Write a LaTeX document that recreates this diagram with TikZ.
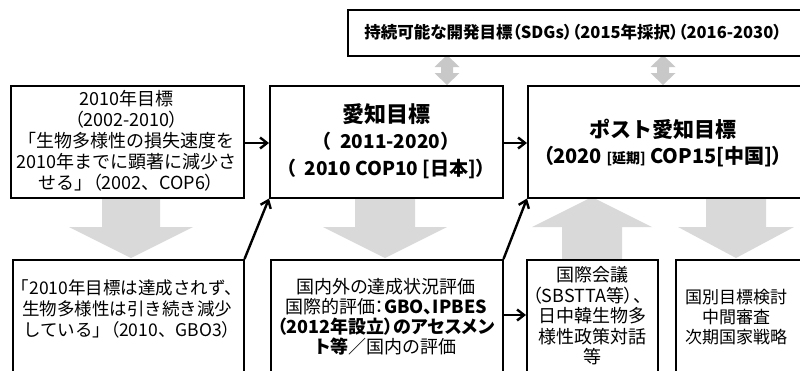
\documentclass[tikz,border=0pt]{standalone}
\usepackage{fontspec}
\setmainfont{Noto Sans CJK JP}
\newfontfamily\paltfont{Noto Sans CJK JP}[RawFeature=+palt]
\usetikzlibrary{arrows.meta,calc}
\definecolor{arrgray}{RGB}{217,217,217}
\definecolor{dblgray}{RGB}{200,200,200}
\newcommand\LP{{\paltfont（}}
\newcommand\RP{{\paltfont）}}
\newcommand\grayArrow[6]{% cx, y0 (shaft start), y1 (head base), y2 (tip), shaft half, head half
  \fill[arrgray] ({#1-#5},#2) -- ({#1+#5},#2) -- ({#1+#5},#3) -- ({#1+#6},#3) -- (#1,#4)
    -- ({#1-#6},#3) -- ({#1-#5},#3) -- cycle;}
\newcommand\dblArrow[1]{%
  \fill[dblgray] (#1,55) -- ({#1+12.5},67) -- ({#1+6},67) -- ({#1+6},73) -- ({#1+12.5},73)
    -- (#1,85) -- ({#1-12.5},73) -- ({#1-6},73) -- ({#1-6},67) -- ({#1-12.5},67) -- cycle;}
\begin{document}
\begin{tikzpicture}[x=1pt,y=-1pt,
  box/.style={draw, line width=1.5pt, inner sep=0pt, anchor=north west},
  txt/.style={align=center, inner sep=0pt},
  blk/.style={line width=2.4pt, -{Straight Barb[length=7pt,width=11pt,line width=2.4pt]}}]
\useasboundingbox (0,0) rectangle (800,370);
\clip (0,0) rectangle (800,370);
% gray arrows
\grayArrow{131}{197}{227}{258}{29}{62}
\grayArrow{385}{197}{227}{258}{30}{62}
\grayArrow{592}{259}{227}{197}{30}{60}
\grayArrow{736}{197}{227}{258}{30}{58}
\dblArrow{447}
\dblArrow{663}
% boxes
\node[box, minimum width=468pt, minimum height=46pt] (sdg) at (347,9) {};
\node[box, minimum width=233pt, minimum height=112pt] (b1) at (10,85) {};
\node[box, minimum width=233pt, minimum height=112pt] (b2) at (269,85) {};
\node[box, minimum width=290pt, minimum height=112pt] (b3) at (527,85) {};
\node[box, minimum width=231pt, minimum height=125pt] (b4) at (12,259) {};
\node[box, minimum width=232pt, minimum height=125pt] (b5) at (270,259) {};
\node[box, minimum width=131pt, minimum height=125pt] (b6) at (526,259) {};
\node[box, minimum width=140pt, minimum height=125pt] (b7) at (675,259) {};
% texts
\node[txt, font={\paltfont\fontsize{16.5}{19}\selectfont\bfseries}] (tsdg) at (573,32) {持続可能な開発目標（SDGs）（2015年採択）（2016-2030）};
\node[txt, font={\fontsize{18}{21}\selectfont}] (t1) at (126.5,141) {2010年目標\\\LP 2002-2010\RP\\「生物多様性の損失速度を\\2010年までに顕著に減少さ\\せる」\LP 2002、COP6\RP};
\node[txt, font={\fontsize{19}{26.5}\selectfont\bfseries}] (t2) at (386,141) {{\fontsize{22}{26.5}\selectfont 愛知目標}\\
  （\ \ 2011-2020）\\（\ \ 2010 COP10 [日本]）};
\node[txt, font={\fontsize{20}{26}\selectfont\bfseries}] (t3) at (663,143) {{\fontsize{21}{26}\selectfont ポスト愛知目標}\\
  \LP 2020 {\fontsize{14}{16}\selectfont [延期]} COP15[中国]\RP};
\node[txt, font={\fontsize{17.5}{21}\selectfont}] (t4) at (127,309) {「2010年目標は達成されず、\\生物多様性は引き続き減少\\している」\LP 2010、GBO3\RP};
\node[txt, font={\paltfont\fontsize{18}{20}\selectfont}] (t5) at (386,317) {国内外の達成状況評価\\国際的評価：\textbf{GBO、IPBES}\\\textbf{（2012年設立）のアセスメン}\\\textbf{ト等}／国内の評価};
\node[txt, font={\fontsize{18}{20.5}\selectfont}] (t6) at (592,316) {国際会議\\\LP SBSTTA等\RP 、\\日中韓生物多\\様性政策対話\\等};
\node[txt, font={\fontsize{17}{20}\selectfont}] (t7) at (736,317) {国別目標検討\\中間審査\\次期国家戦略};
% black arrows
\draw[blk] (b1.east |- 0,143) -- (b2.west |- 0,143);
\draw[blk] (b2.east |- 0,143) -- (b3.west |- 0,143);
\draw[blk] (b4.north east) -- (b2.south west);
\draw[blk] (b5.north east) -- (b3.south west);
\draw[blk] (b5.east |- 0,315) -- (b6.west |- 0,315);
\end{tikzpicture}
\end{document}
